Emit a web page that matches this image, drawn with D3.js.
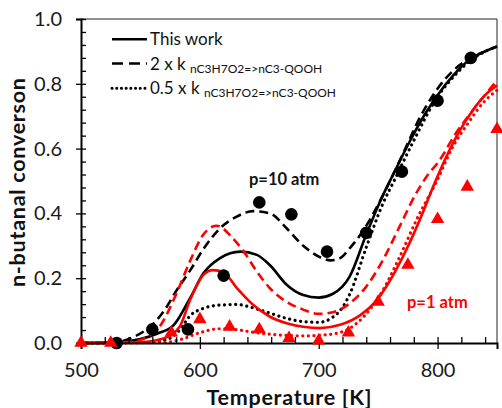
<!DOCTYPE html>
<html><head><meta charset="utf-8">
<script src="https://cdn.jsdelivr.net/npm/d3@7"></script>
<style>
body{margin:0;background:#fff}
svg{display:block}
text{font-family:Lato,"Open Sans",sans-serif}
</style>
</head><body>
<svg id="c" width="502" height="408"></svg>
<script>
// ---- data ----
const xMajorTicks = [500, 600, 700, 800];
const xMinorTicks = [520,540,560,580,620,640,660,680,720,740,760,780,820,840];
const yMajorTicks = [0, 0.2, 0.4, 0.6, 0.8, 1.0];
const yMinorTicks = [0.04,0.08,0.12,0.16,0.24,0.28,0.32,0.36,0.44,0.48,0.52,0.56,0.64,0.68,0.72,0.76,0.84,0.88,0.92,0.96];

// experiments
const expT10 = [530, 560, 590, 620, 650, 677, 707, 740, 770, 800, 828];
const expV10 = [0.0, 0.042, 0.042, 0.208, 0.434, 0.397, 0.282, 0.34, 0.529, 0.748, 0.88];
const expT1 = [500, 525, 576, 600, 625, 650, 675, 700, 725, 750, 775, 800, 825, 850];
const expV1 = [0, 0, 0.032, 0.073, 0.05, 0.042, 0.015, 0.007, 0.032, 0.127, 0.241, 0.382, 0.482, 0.66];

// model p=10 atm
const solid10T = [500,530,550,565,578,592,603,617,634,648,659,673,687,700,712,726,740,752,764,777,790,800,813,827,840,850];
const solid10V = [0,0.002,0.012,0.03,0.055,0.14,0.215,0.262,0.282,0.272,0.24,0.18,0.148,0.14,0.152,0.205,0.335,0.44,0.53,0.625,0.71,0.765,0.825,0.875,0.9,0.915];
const dash10T = [500,530,545,558,570,580,592,603,617,631,645,659,673,687,701,710,718,726,738,749,760,771,785,799,813,827,840,850];
const dash10V = [0,0.003,0.02,0.05,0.1,0.16,0.225,0.29,0.354,0.39,0.407,0.4,0.354,0.3,0.265,0.255,0.262,0.292,0.35,0.42,0.5,0.585,0.695,0.78,0.84,0.878,0.9,0.915];
const dot10T = [500,560,575,583,592,603,617,631,645,659,673,687,700,712,720,726,740,754,764,780,800,813,827,840,850];
const dot10V = [0,0.002,0.015,0.04,0.085,0.107,0.117,0.119,0.108,0.092,0.076,0.066,0.064,0.08,0.11,0.15,0.295,0.43,0.505,0.625,0.76,0.82,0.87,0.9,0.915];

// model p=1 atm
const solid1T = [500,550,570,583,592,603,611,620,631,645,659,673,687,701,718,735,749,763,774,785,796,800,817,830,840,850];
const solid1V = [0,0.003,0.015,0.05,0.135,0.21,0.225,0.218,0.17,0.117,0.081,0.061,0.05,0.046,0.056,0.086,0.133,0.212,0.29,0.38,0.48,0.515,0.645,0.72,0.765,0.795];
const dash1T = [500,540,552,566,580,592,603,610,614,620,626,637,648,659,673,687,700,712,726,740,754,768,782,792,800,815,830,850];
const dash1V = [0,0.003,0.012,0.05,0.15,0.255,0.335,0.358,0.362,0.352,0.33,0.282,0.22,0.169,0.127,0.103,0.09,0.095,0.122,0.174,0.256,0.359,0.462,0.52,0.555,0.645,0.72,0.81];
const dot1T = [500,570,585,600,617,631,645,659,687,701,715,726,740,754,768,782,800,812,825,838,850];
const dot1V = [0,0.002,0.012,0.032,0.044,0.041,0.033,0.027,0.022,0.024,0.03,0.045,0.09,0.163,0.265,0.378,0.505,0.6,0.675,0.74,0.78];

// ---- chart ----
const svg = d3.select("#c");
const x = d3.scaleLinear().domain([500, 850]).range([81, 497]);
const y = d3.scaleLinear().domain([0, 1]).range([343, 19]);

// frame (top & right)
svg.append("path")
  .attr("d", `M${x(500)},${y(1)}H${x(850)}V${y(0)}`)
  .attr("fill", "none").attr("stroke", "#222").attr("stroke-width", 1);

const styles = {
  solid: {dash: null, cap: "butt", w: 2.6},
  dash: {dash: "9,5", cap: "butt", w: 2.6},
  dot: {dash: "0.1,5.5", cap: "round", w: 3.2}
};
const line = d3.line().x(d => x(d[0])).y(d => y(d[1])).curve(d3.curveMonotoneX);
function drawCurve(T, V, color, st) {
  const s = styles[st];
  svg.append("path")
    .datum(T.map((t, i) => [t, V[i]]))
    .attr("d", line)
    .attr("fill", "none")
    .attr("stroke", color)
    .attr("stroke-width", s.w)
    .attr("stroke-linecap", s.cap)
    .attr("stroke-dasharray", s.dash);
}
drawCurve(solid10T, solid10V, "#000", "solid");
drawCurve(dash10T, dash10V, "#000", "dash");
drawCurve(dot10T, dot10V, "#000", "dot");
drawCurve(solid1T, solid1V, "#f00", "solid");
drawCurve(dash1T, dash1V, "#f00", "dash");
drawCurve(dot1T, dot1V, "#f00", "dot");

// axes
const gy = svg.append("g").attr("transform", `translate(${x(500)},0)`);
gy.call(d3.axisLeft(y).tickValues(yMajorTicks).tickSize(5).tickPadding(14).tickFormat(d3.format(".1f")));
const gyIn = svg.append("g").attr("transform", `translate(${x(500)},0)`);
gyIn.call(d3.axisRight(y).tickValues(yMajorTicks.concat(yMinorTicks)).tickSize(5).tickFormat(""));
const gx = svg.append("g").attr("transform", `translate(0,${y(0)})`);
gx.call(d3.axisBottom(x).tickValues(xMajorTicks).tickSize(6).tickPadding(14).tickFormat(d3.format("d")));
const gxIn = svg.append("g").attr("transform", `translate(0,${y(0)})`);
gxIn.call(d3.axisTop(x).tickValues(xMajorTicks.concat(xMinorTicks)).tickSize(6).tickFormat(""));
[gy, gyIn, gx, gxIn].forEach(g => {
  g.selectAll(".domain").attr("stroke", "#000").attr("stroke-width", 2);
  g.selectAll(".tick line").attr("stroke", "#000").attr("stroke-width", 1.3);
  g.selectAll("text").attr("font-family", "Lato, 'Open Sans', sans-serif").attr("font-size", 20).attr("fill", "#1a1a1a");
});
gyIn.select(".domain").remove();
gxIn.select(".domain").remove();

// markers
svg.append("g").selectAll("circle")
  .data(expT10.map((t, i) => [t, expV10[i]]))
  .join("circle")
  .attr("cx", d => x(d[0])).attr("cy", d => y(d[1])).attr("r", 6.3).attr("fill", "#000");
const tri = d3.symbol().type(d3.symbolTriangle).size(78);
svg.append("g").selectAll("path")
  .data(expT1.map((t, i) => [t, expV1[i]]))
  .join("path")
  .attr("transform", d => `translate(${x(d[0])},${y(d[1])})`)
  .attr("d", tri).attr("fill", "#f00");

// axis titles
svg.append("text").attr("x", 289).attr("y", 404.5).attr("text-anchor", "middle")
  .attr("font-size", 21.5).attr("font-weight", "bold").attr("fill", "#111")
  .attr("textLength", 165).attr("lengthAdjust", "spacing").text("Temperature [K]");
svg.append("text").attr("transform", "translate(24.5,182.5) rotate(-90)").attr("text-anchor", "middle")
  .attr("font-size", 21.5).attr("font-weight", "bold").attr("fill", "#111")
  .attr("textLength", 209).attr("lengthAdjust", "spacing").text("n-butanal converson");

// annotations
svg.append("text").attr("x", 249).attr("y", 185).attr("font-size", 16.5).attr("font-weight", "bold").attr("fill", "#111").text("p=10 atm");
svg.append("text").attr("x", 407).attr("y", 308).attr("font-size", 16.5).attr("font-weight", "bold").attr("fill", "#f00").text("p=1 atm");

// legend
const legendMain = ["This work", "2 x k ", "0.5 x k "];
const legendSub = ["", "nC3H7O2=>nC3-QOOH", "nC3H7O2=>nC3-QOOH"];
const legendStyle = [{dash: null, cap: "butt"}, {dash: "11,6", cap: "butt"}, {dash: "0.1,4.6", cap: "round"}];
const legendLineY = [39.3, 63.5, 88.3];
const legendTextY = [44.5, 70, 94];
legendMain.forEach((t, i) => {
  svg.append("line").attr("x1", 112).attr("x2", 147).attr("y1", legendLineY[i]).attr("y2", legendLineY[i])
    .attr("stroke", "#000").attr("stroke-width", i === 2 ? 3 : 2.6)
    .attr("stroke-linecap", legendStyle[i].cap).attr("stroke-dasharray", legendStyle[i].dash);
  const tx = svg.append("text").attr("x", 150).attr("y", legendTextY[i]).attr("font-size", 17).attr("fill", "#111");
  tx.append("tspan").text(t);
  if (legendSub[i]) tx.append("tspan").attr("font-size", 12).attr("dy", 3).text(legendSub[i]);
});
</script>
</body></html>
